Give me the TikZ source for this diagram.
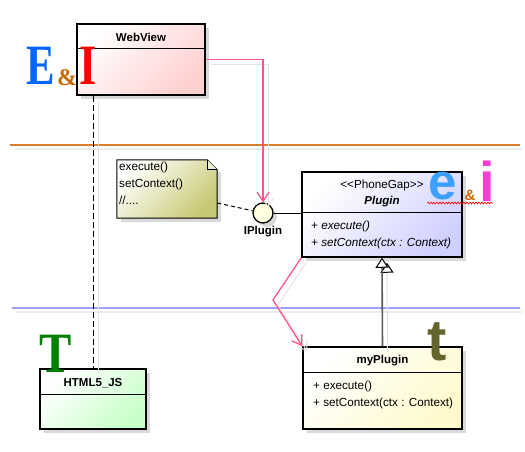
\documentclass[tikz,border=0pt]{standalone}
\usepackage{fontspec}
\setmainfont{Liberation Sans}
\newfontfamily\logoserif{Liberation Serif}
\usepackage{tikz}
\usetikzlibrary{arrows.meta, positioning, shadows, decorations.pathmorphing}
\definecolor{webred}{RGB}{255,208,208}
\definecolor{plugblue}{RGB}{208,208,255}
\definecolor{plugyellow}{RGB}{255,250,205}
\definecolor{jsgreen}{RGB}{200,255,200}
\definecolor{noteolive}{RGB}{200,200,115}
\definecolor{ifaceyellow}{RGB}{255,255,225}
\definecolor{linkpink}{RGB}{255,85,135}
\definecolor{sepband}{RGB}{220,125,45}
\definecolor{sepblue}{RGB}{160,160,255}
\definecolor{logoblue}{RGB}{0,102,255}
\definecolor{logoamp}{RGB}{204,102,0}
\definecolor{logoe}{RGB}{60,160,255}
\definecolor{logoi}{RGB}{255,60,210}
\definecolor{logot}{RGB}{100,100,45}
\definecolor{logoT}{RGB}{0,128,0}

\begin{document}
\begin{tikzpicture}[x=1pt, y=-1pt, font=\fontsize{11.7}{14}\selectfont,
    boxshadow/.style={drop shadow={shadow xshift=4pt, shadow yshift=-4pt, fill=gray!30, opacity=1}},
    classbox/.style={draw, line width=1.5pt, inner sep=0pt, boxshadow,
      shading=axis, top color=white, bottom color=#1, shading angle=45},
    headline/.style={line width=1pt},
    classname/.style={inner sep=0pt, font=\bfseries\fontsize{11.5}{14}\selectfont},
    opslist/.style={anchor=west, align=left, inner sep=0pt, font=\fontsize{11.7}{16.5}\selectfont},
    lineshadow/.style={preaction={draw=gray!22, line width=1pt, solid,
      transform canvas={shift={(5pt,-5pt)}}}},
    realize/.style={draw=linkpink, line width=1.3pt, -{Straight Barb[length=9pt, width=12pt]}},
    inherit/.style={draw=gray!70!black, line width=1.6pt,
      -{Triangle[open, length=10pt, width=13pt, line width=1pt, color=black, fill=white]}},
    dependency/.style={line width=1pt, dash pattern=on 6pt off 3pt},
    notelink/.style={line width=1pt, dash pattern=on 4pt off 3pt},
    logo/.style={inner sep=0pt}]

  \fill[white] (0,0) rectangle (525,452);
  \useasboundingbox (0,0) rectangle (525,452);

  % swimlane separators
  \draw[gray!15, line width=2pt] (15,149) -- (522,149);
  \draw[sepband, line width=2pt] (10,145) -- (520,145);
  \draw[gray!15, line width=2pt] (16,312) -- (522,312);
  \draw[sepblue, line width=2pt] (12,308) -- (520,308);

  % classes
  \node[classbox=webred, minimum width=128pt, minimum height=71pt] (webview) at (141,59.5) {};
  \node[classname] (webview title) at (141,37) {WebView};
  \draw[headline] ([yshift=-25pt]webview.north west) -- ([yshift=-25pt]webview.north east);

  \node[classbox=plugblue, minimum width=160pt, minimum height=85pt] (plugin) at (382,214.5) {};
  \node[inner sep=0pt] (plugin stereo) at (382,185) {\textless\kern0pt\textless PhoneGap\textgreater\kern0pt\textgreater};
  \node[classname, font=\bfseries\itshape\fontsize{11.5}{14}\selectfont] (plugin title) at (382,202) {Plugin};
  \draw[headline] ([yshift=-41pt]plugin.north west) -- ([yshift=-41pt]plugin.north east);
  \node[opslist, font=\itshape\fontsize{11.7}{16.5}\selectfont] (plugin ops) at (311,235)
    {+ execute()\\+ setContext(ctx : Context)};

  \node[classbox=plugyellow, minimum width=159pt, minimum height=82pt] (myplugin) at (382.5,388) {};
  \node[classname] (myplugin title) at (382.5,361) {myPlugin};
  \draw[headline] ([yshift=-26pt]myplugin.north west) -- ([yshift=-26pt]myplugin.north east);
  \node[opslist] (myplugin ops) at (313,395) {+ execute()\\+ setContext(ctx : Context)};

  \node[classbox=jsgreen, minimum width=106pt, minimum height=60pt] (html5js) at (93,399) {};
  \node[classname] (html5js title) at (93,383) {HTML5\_JS};
  \draw[headline] ([yshift=-26pt]html5js.north west) -- ([yshift=-26pt]html5js.north east);

  % note and interface
  \node[minimum width=100pt, minimum height=58pt, inner sep=0pt] (note) at (167,189) {};
  \shade[draw, line width=1pt, boxshadow, shading=axis, top color=white,
      bottom color=noteolive, shading angle=45]
    (note.north west) -- ([xshift=-10pt]note.north east) -- ([yshift=-10pt]note.north east)
    -- (note.south east) -- (note.south west) -- cycle;
  \draw[line width=0.8pt, fill=white!70!noteolive] ([xshift=-10pt]note.north east)
    -- ([xshift=-10pt, yshift=-10pt]note.north east) -- ([yshift=-10pt]note.north east);
  \node[anchor=north west, align=left, inner sep=0pt, font=\fontsize{11.7}{17}\selectfont]
    (note text) at (119,162) {execute()\\setContext()\\//....};

  \node[circle, draw, line width=1.3pt, fill=ifaceyellow, minimum size=20pt, inner sep=0pt,
    boxshadow] (iplugin) at (263,213) {};
  \node[classname, below=2pt of iplugin] (iplugin label) {IPlugin};

  % connectors
  \coordinate (pink bend) at (273,300);
  \draw[dependency, lineshadow] (webview.south -| html5js.north) -- (html5js.north);
  \draw[realize, lineshadow] (webview.east) -| (iplugin.north);
  \draw[notelink] ([yshift=-14pt]note.east) -- (iplugin);
  \draw[line width=1pt] (iplugin.east) -- (iplugin.east -| plugin.west);
  \draw[realize, lineshadow] (plugin.south west) -- (pink bend) -- (myplugin.north west);
  \draw[inherit, lineshadow] (myplugin.north) -- (plugin.south);

  % logos
  \node[logo, text=logoblue, font=\logoserif\bfseries\fontsize{57}{57}\selectfont] (logo E) at (41,66) {\scalebox{0.75}[1]{E}};
  \node[logo, text=logoamp, font=\logoserif\bfseries\fontsize{24}{24}\selectfont] (logo amp) at (67,78) {\&};
  \node[logo, text=red, font=\logoserif\bfseries\fontsize{57}{57}\selectfont] (logo I) at (88,66) {\scalebox{0.78}[1]{I}};

  \node[logo, text=logoe, font=\bfseries\fontsize{51}{51}\selectfont] (logo e) at (443,186) {e};
  \node[logo, text=logoamp, font=\bfseries\fontsize{15}{15}\selectfont] (logo amp2) at (470,195) {\&};
  \node[logo, text=logoi, font=\bfseries\fontsize{56}{56}\selectfont] (logo i) at (487,181) {i};
  \draw[red, line width=0.6pt, decorate, decoration={snake, amplitude=1pt, segment length=3pt}]
    (427,203) -- (493,203);

  \node[logo, text=logot, font=\bfseries\fontsize{58}{58}\selectfont] (logo t) at (437,342) {t};
  \node[logo, text=logoT, font=\logoserif\bfseries\fontsize{57}{57}\selectfont] (logo T) at (56,354) {\scalebox{0.85}[1]{T}};
\end{tikzpicture}
\end{document}
